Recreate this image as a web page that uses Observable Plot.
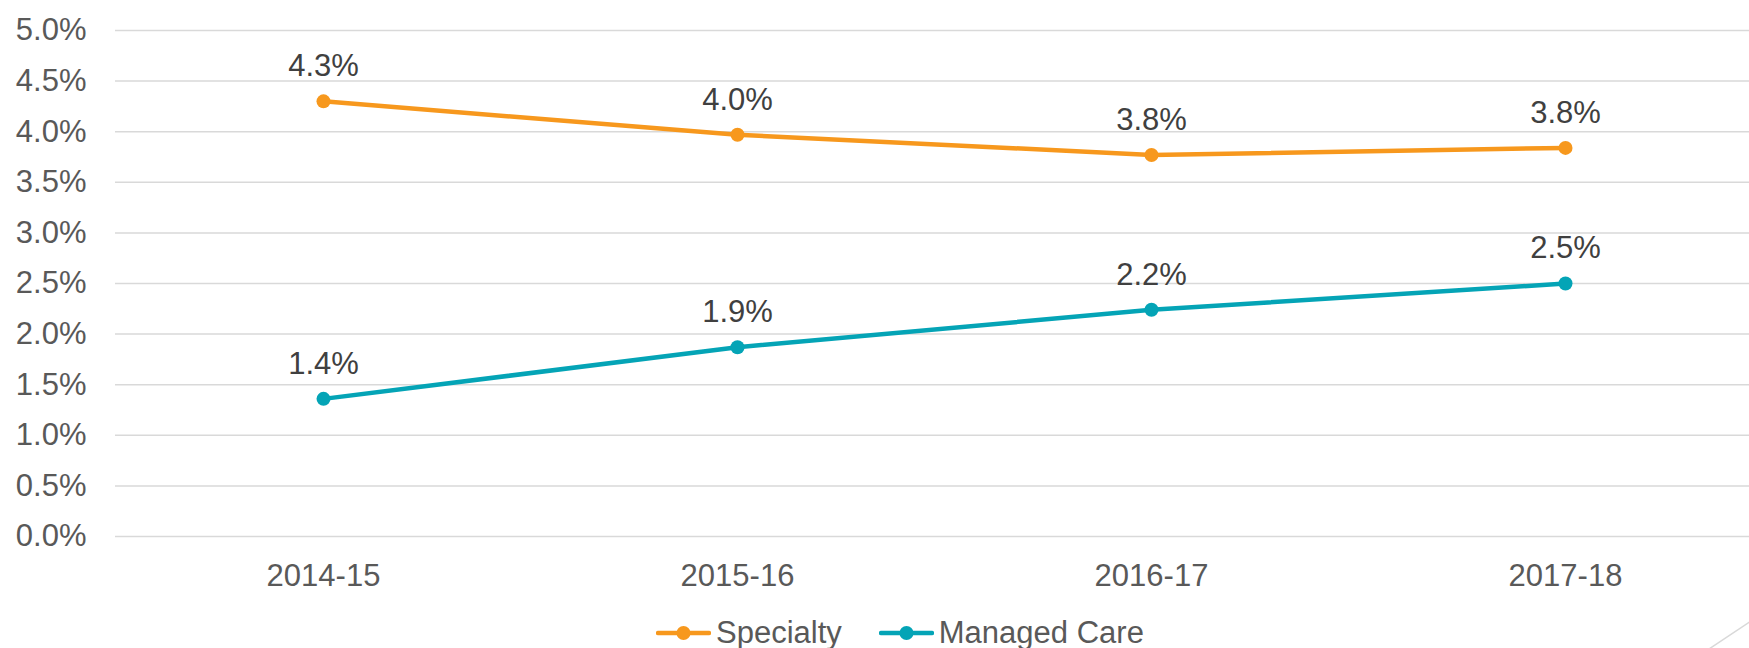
<!DOCTYPE html>
<html>
<head>
<meta charset="utf-8">
<script src="https://cdn.jsdelivr.net/npm/d3@7"></script>
<script src="https://cdn.jsdelivr.net/npm/@observablehq/plot@0.6"></script>
<style>
  html, body { margin: 0; padding: 0; background: #fff; }
  body { width: 1749px; height: 648px; overflow: hidden; position: relative; font-family: "Liberation Sans", Arial, sans-serif; }
  #legend { position: absolute; left: 656px; top: 612px; height: 42px; display: flex; align-items: center; font-size: 31px; color: #595959; white-space: nowrap; }
  .item { display: flex; align-items: center; margin-right: 37px; }
  .item svg { margin-right: 5px; }
  #corner { position: absolute; left: 0; top: 0; pointer-events: none; }
</style>
</head>
<body>
<div id="chart"></div>
<div id="legend"></div>
<svg id="corner" width="1749" height="648"><line x1="1700" y1="655" x2="1760" y2="615" stroke="#D9D9D9" stroke-width="1.5"/></svg>
<script>
const categories = ["2014-15", "2015-16", "2016-17", "2017-18"];
const seriesNames = ["Specialty", "Managed Care"];
const specialty = [0.0430, 0.0397, 0.0377, 0.0384];
const managedCare = [0.0136, 0.0187, 0.0224, 0.0250];
const yTicks = [0, 0.005, 0.01, 0.015, 0.02, 0.025, 0.03, 0.035, 0.04, 0.045, 0.05];
const colors = ["#F7981D", "#04A4B6"];

const rows = [];
categories.forEach((c, i) => {
  rows.push({cat: c, series: seriesNames[0], value: specialty[i]});
  rows.push({cat: c, series: seriesNames[1], value: managedCare[i]});
});
const fmt = d3.format(".1%");

const chart = Plot.plot({
  width: 1749,
  height: 600,
  marginLeft: 115,
  marginRight: 0,
  marginTop: 30,
  marginBottom: 64,
  style: {fontFamily: "'Liberation Sans', Arial, sans-serif", background: "#fff"},
  x: {type: "point", domain: categories, range: [322, 1566], padding: 0},
  y: {domain: [0, 0.05]},
  color: {domain: seriesNames, range: colors},
  marks: [
    Plot.gridY(yTicks, {stroke: "#D9D9D9", strokeOpacity: 1, strokeWidth: 1.5}),
    Plot.axisY({ticks: yTicks, tickSize: 0, tickPadding: 29, tickFormat: fmt, fill: "#595959", fontSize: 31, label: null}),
    Plot.axisX({tickSize: 0, tickPadding: 27, fill: "#595959", fontSize: 31, label: null}),
    Plot.lineY(rows, {x: "cat", y: "value", z: "series", stroke: "series", strokeWidth: 4.5}),
    Plot.dot(rows, {x: "cat", y: "value", fill: "series", r: 7}),
    Plot.text(rows, {x: "cat", y: "value", text: d => fmt(d.value), dy: -35, fill: "#404040", fontSize: 31})
  ]
});
document.getElementById("chart").appendChild(chart);

const legend = document.getElementById("legend");
seriesNames.forEach((name, i) => {
  const item = document.createElement("div");
  item.className = "item";
  item.innerHTML = `<svg width="55" height="16"><line x1="2" y1="8" x2="53" y2="8" stroke="${colors[i]}" stroke-width="4.5" stroke-linecap="round"/><circle cx="27.5" cy="8" r="7" fill="${colors[i]}"/></svg><span>${name}</span>`;
  legend.appendChild(item);
});
</script>
</body>
</html>
